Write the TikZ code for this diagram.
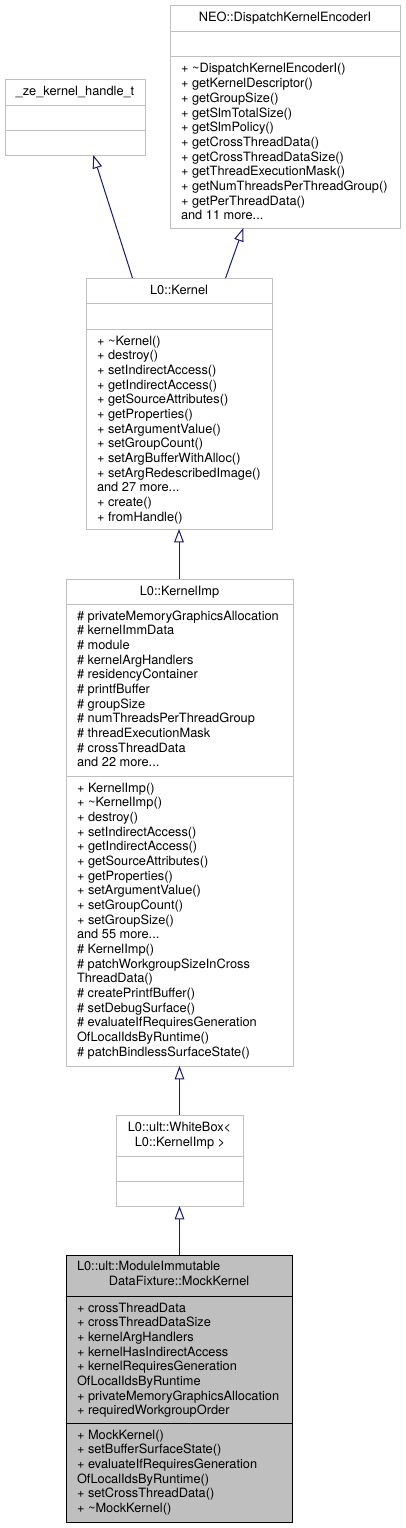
\documentclass[tikz,border=0pt]{standalone}
\usepackage{fontspec}
\setmainfont{TeX Gyre Heros}
\usetikzlibrary{arrows.meta}
\definecolor{grey75}{RGB}{191,191,191}
\definecolor{edgeblue}{RGB}{25,25,112}
\newcommand{\tl}{\textasciitilde}
\newcommand{\mblock}[1]{\vtop{\baselineskip=14.67pt\lineskiplimit=-20pt\lineskip=0pt%
  \def\\{\egroup\hbox\bgroup\ignorespaces}\hbox\bgroup\ignorespaces#1\egroup}}
\begin{document}
\begin{tikzpicture}[x=1pt,y=-1pt,
  every node/.style={font=\fontsize{12.8}{14.67}\selectfont, inner sep=0pt, outer sep=0pt},
  box/.style={rectangle, draw=grey75, fill=white, line width=1pt},
  curbox/.style={box, draw=black, fill=grey75},
  sepl/.style={draw=grey75, line width=1pt},
  cursepl/.style={draw=black, line width=1pt},
  ttl/.style={anchor=base},
  mem/.style={anchor=base west},
  inh/.style={draw=edgeblue, line width=1pt, -{Triangle[open, length=13.3pt, width=9.6pt]}}]
\fill[white] (0,0) rectangle (405,1528);
\useasboundingbox (0,0) rectangle (405,1528);

% ---- _ze_kernel_handle_t
\node[box, minimum width=140pt, minimum height=76pt] (ze) at (75,117) {};
\draw[sepl] ([yshift=-26pt]ze.north west) -- ([yshift=-26pt]ze.north east);
\draw[sepl] ([yshift=-51pt]ze.north west) -- ([yshift=-51pt]ze.north east);
\node[ttl] (zeT) at (75,95) {\_ze\_kernel\_handle\_t};

% ---- NEO::DispatchKernelEncoderI
\node[box, minimum width=230pt, minimum height=222pt] (neo) at (285,117) {};
\draw[sepl] ([yshift=-26pt]neo.north west) -- ([yshift=-26pt]neo.north east);
\draw[sepl] ([yshift=-51pt]neo.north west) -- ([yshift=-51pt]neo.north east);
\node[ttl] (neoT) at (285,22) {NEO::DispatchKernelEncoderI};
\node[mem] (neoM) at (181,73) {\mblock{+ \tl DispatchKernelEncoderI()\\
+ getKernelDescriptor()\\
+ getGroupSize()\\
+ getSlmTotalSize()\\
+ getSlmPolicy()\\
+ getCrossThreadData()\\
+ getCrossThreadDataSize()\\
+ getThreadExecutionMask()\\
+ getNumThreadsPerThreadGroup()\\
+ getPerThreadData()\\
and 11 more...}};

% ---- L0::Kernel
\node[box, minimum width=186pt, minimum height=251pt] (kernel) at (179,403.5) {};
\draw[sepl] ([yshift=-25pt]kernel.north west) -- ([yshift=-25pt]kernel.north east);
\draw[sepl] ([yshift=-51pt]kernel.north west) -- ([yshift=-51pt]kernel.north east);
\node[ttl] (kernelT) at (179,294) {L0::Kernel};
\node[mem] (kernelM) at (97,345) {\mblock{+ \tl Kernel()\\
+ destroy()\\
+ setIndirectAccess()\\
+ getIndirectAccess()\\
+ getSourceAttributes()\\
+ getProperties()\\
+ setArgumentValue()\\
+ setGroupCount()\\
+ setArgBufferWithAlloc()\\
+ setArgRedescribedImage()\\
and 27 more...\\
+ create()\\
+ fromHandle()}};

% ---- L0::KernelImp
\node[box, minimum width=227pt, minimum height=487pt] (kimp) at (179.5,822.5) {};
\draw[sepl] ([yshift=-25pt]kimp.north west) -- ([yshift=-25pt]kimp.north east);
\draw[sepl] ([yshift=-197pt]kimp.north west) -- ([yshift=-197pt]kimp.north east);
\node[ttl] (kimpT) at (179.5,595) {L0::KernelImp};
\node[mem] (kimpA) at (77,620) {\mblock{\# privateMemoryGraphicsAllocation\\
\# kernelImmData\\
\# module\\
\# kernelArgHandlers\\
\# residencyContainer\\
\# printfBuffer\\
\# groupSize\\
\# numThreadsPerThreadGroup\\
\# threadExecutionMask\\
\# crossThreadData\\
and 22 more...}};
\node[mem] (kimpM) at (77,792) {\mblock{+ KernelImp()\\
+ \tl KernelImp()\\
+ destroy()\\
+ setIndirectAccess()\\
+ getIndirectAccess()\\
+ getSourceAttributes()\\
+ getProperties()\\
+ setArgumentValue()\\
+ setGroupCount()\\
+ setGroupSize()\\
and 55 more...\\
\# KernelImp()\\
\# patchWorkgroupSizeInCross\\
ThreadData()\\
\# createPrintfBuffer()\\
\# setDebugSurface()\\
\# evaluateIfRequiresGeneration\\
OfLocalIdsByRuntime()\\
\# patchBindlessSurfaceState()}};

% ---- L0::ult::WhiteBox< L0::KernelImp >
\node[box, minimum width=127pt, minimum height=91pt] (wb) at (179.5,1160.5) {};
\draw[sepl] ([yshift=-41pt]wb.north west) -- ([yshift=-41pt]wb.north east);
\draw[sepl] ([yshift=-66pt]wb.north west) -- ([yshift=-66pt]wb.north east);
\node[ttl] (wbT1) at (179.5,1131.5) {L0::ult::WhiteBox<};
\node[ttl] (wbT2) at (180,1146.2) {L0::KernelImp >};

% ---- MockKernel
\node[curbox, minimum width=226pt, minimum height=267pt] (mock) at (179,1388.5) {};
\draw[cursepl] ([yshift=-41pt]mock.north west) -- ([yshift=-41pt]mock.north east);
\draw[cursepl] ([yshift=-168pt]mock.north west) -- ([yshift=-168pt]mock.north east);
\node[anchor=base west] (mockT1) at (77,1270.7) {L0::ult::ModuleImmutable};
\node[ttl] (mockT2) at (179,1285.3) {DataFixture::MockKernel};
\node[mem] (mockA) at (77,1312) {\mblock{+ crossThreadData\\
+ crossThreadDataSize\\
+ kernelArgHandlers\\
+ kernelHasIndirectAccess\\
+ kernelRequiresGeneration\\
OfLocalIdsByRuntime\\
+ privateMemoryGraphicsAllocation\\
+ requiredWorkgroupOrder}};
\node[mem] (mockM) at (77,1439) {\mblock{+ MockKernel()\\
+ setBufferSurfaceState()\\
+ evaluateIfRequiresGeneration\\
OfLocalIdsByRuntime()\\
+ setCrossThreadData()\\
+ \tl MockKernel()}};

% ---- inheritance connectors
\draw[inh] ([xshift=-46.5pt]kernel.north) -- ([xshift=18.3pt]ze.south);
\draw[inh] ([xshift=46.6pt]kernel.north) -- ([xshift=-41.7pt]neo.south);
\draw[inh] (kernel.south |- kimp.north) -- (kernel.south);
\draw[inh] (wb.north) -- (kimp.south);
\draw[inh] (mock.north -| wb.north) -- (wb.south);
\end{tikzpicture}
\end{document}
